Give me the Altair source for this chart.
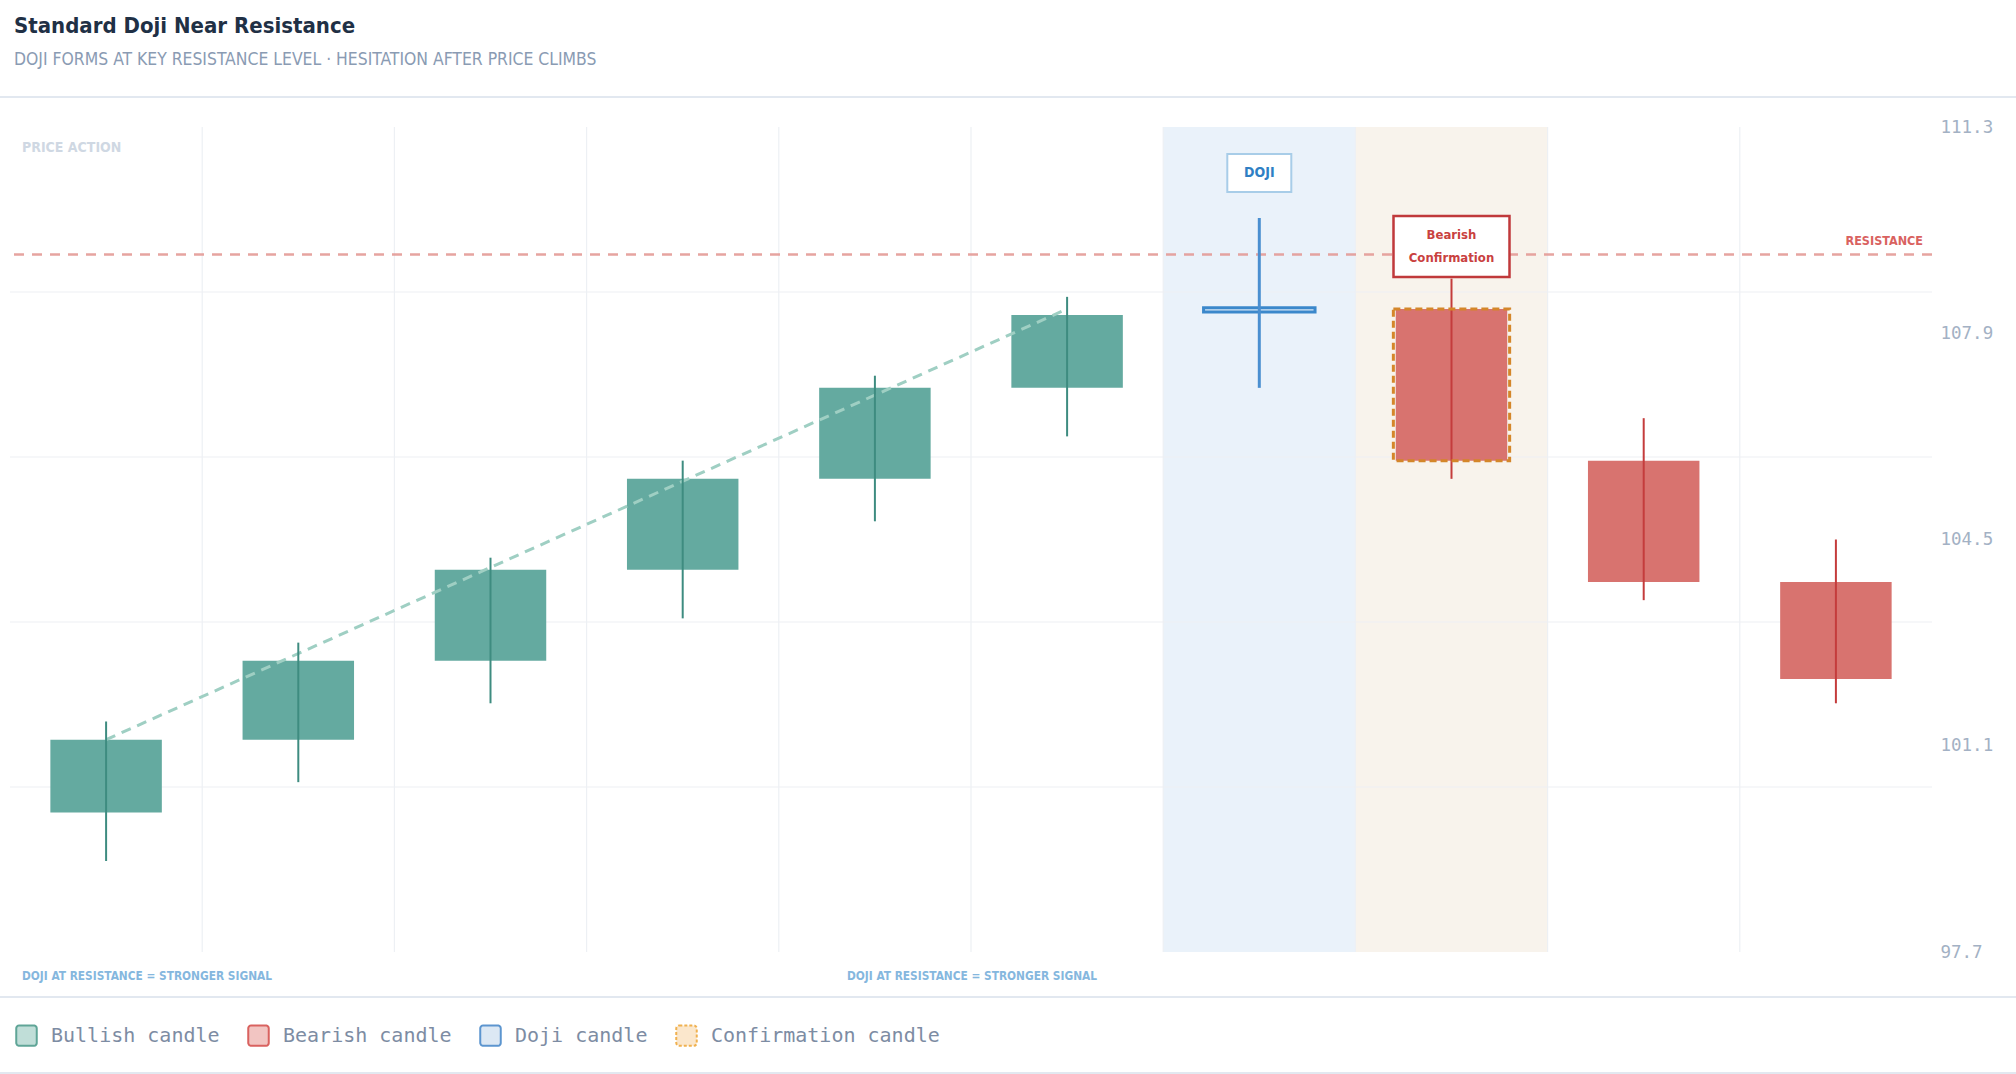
import altair as alt
import pandas as pd

# ---------------- data ----------------
cats = ["C1", "C2", "C3", "C4", "C5", "C6", "C7", "C8", "C9", "C10"]
opens = [100.0, 101.2, 102.5, 104.0, 105.5, 107.0, 108.25, 108.3, 105.8, 103.8]
closes = [101.2, 102.5, 104.0, 105.5, 107.0, 108.2, 108.32, 105.8, 103.8, 102.2]
highs = [101.5, 102.8, 104.2, 105.8, 107.2, 108.5, 109.8, 108.8, 106.5, 104.5]
lows = [99.2, 100.5, 101.8, 103.2, 104.8, 106.2, 107.0, 105.5, 103.5, 101.8]
kinds = ["bull"] * 6 + ["doji", "confirm", "bear", "bear"]

y_ticks = [97.7, 101.1, 104.5, 107.9, 111.3]
y_grid = [100.42, 103.14, 105.86, 108.58]
resistance = 109.2
trend_cats = ["C1", "C6"]
trend_vals = [101.2, 108.3]
band_cats = ["C7", "C8"]
band_kinds = ["doji", "confirm"]
ann_cats = ["C7", "C8"]
ann_vals = [110.54, 109.33]
ann_texts = ["DOJI", "Bearish\nConfirmation"]
legend_labels = ["Bullish candle", "Bearish candle", "Doji candle", "Confirmation candle"]
footer_texts = ["DOJI AT RESISTANCE = STRONGER SIGNAL", "DOJI AT RESISTANCE = STRONGER SIGNAL"]

COND = "Liberation Sans Narrow, DejaVu Sans Condensed, Roboto Condensed, Roboto, sans-serif"
MONO = "DejaVu Sans Mono, Liberation Mono, monospace"

W, H = 1922, 825

candles = pd.DataFrame({"cat": cats, "open": opens, "close": closes,
                        "high": highs, "low": lows, "kind": kinds})
trend = pd.DataFrame({"cat": trend_cats, "v": trend_vals})
bands = pd.DataFrame({"cat": band_cats, "kind": band_kinds})
ann = pd.DataFrame({"cat": ann_cats, "v": ann_vals, "t": ann_texts})
grid_v = pd.DataFrame({"cat": cats[1:]})
grid_h = pd.DataFrame({"v": y_grid})
res_df = pd.DataFrame({"v": [resistance], "t": ["RESISTANCE"]})
leg_df = pd.DataFrame({"kind": legend_labels})

xscale = alt.Scale(domain=cats, paddingInner=0, paddingOuter=0)
yscale = alt.Scale(domain=[97.7, 111.3], nice=False, zero=False)
yaxis = alt.Axis(orient="right", values=y_ticks, format=".1f", grid=False,
                 ticks=False, tickSize=0, domain=False, labelPadding=8,
                 labelFont=MONO, labelFontSize=17.5, labelColor="#a3b1c4",
                 labelFlush=False, title=None)


def X(**kw):
    return alt.X("cat:O", scale=xscale, axis=None, **kw)


def Y(field):
    return alt.Y(f"{field}:Q", scale=yscale, axis=yaxis)


# highlight bands
band_layer = alt.Chart(bands).mark_rect().encode(
    x=X(),
    color=alt.Color("kind:N", scale=alt.Scale(domain=["doji", "confirm"],
                                              range=["#eaf2fa", "#f8f3ec"]), legend=None),
)

# gridlines
vgrid = alt.Chart(grid_v).mark_rule(color="#edf0f4", strokeWidth=1.2).encode(
    x=alt.X("cat:O", scale=xscale, axis=None, bandPosition=0)
)
hgrid = alt.Chart(grid_h).mark_rule(color="#edf0f4", strokeWidth=1.2).encode(y=Y("v"))

# resistance line + label
res_line = alt.Chart(res_df).mark_rule(color="#e39a96", strokeWidth=2.5,
                                       strokeDash=[10, 8], opacity=0.9).encode(y=Y("v"))
res_text = alt.Chart(res_df).mark_text(align="right", baseline="bottom", dy=-6,
                                       font=COND, fontSize=12.5, fontWeight="bold",
                                       color="#d9625f").encode(
    x=alt.value(W - 9), y=Y("v"), text="t:N")

# trend line
trend_line = alt.Chart(trend).mark_line(color="#9fcfc3", strokeWidth=3,
                                        strokeDash=[10, 7]).encode(x=X(), y=Y("v"))

body_w = alt.RelativeBandSize(0.58)


def bodies(kind, width=body_w, **style):
    return alt.Chart(candles).transform_filter(
        alt.datum.kind == kind).mark_bar(width=width, **style).encode(
        x=X(), y=Y("open"), y2="close")


def wicks(kind, color, sw=2):
    return alt.Chart(candles).transform_filter(
        alt.datum.kind == kind).mark_rule(color=color, strokeWidth=sw).encode(
        x=X(), y=Y("low"), y2="high")


b_bull = bodies("bull", color="#64aaa0")
b_bear = bodies("bear", color="#d8736f")
b_conf = bodies("confirm", color="#d8736f")
b_conf_outline = bodies("confirm", width=alt.RelativeBandSize(0.605), fill=None,
                        fillOpacity=0, stroke="#d4862a", strokeWidth=3,
                        strokeDash=[7, 4])
b_doji = bodies("doji", fill="#d6e6f5", stroke="#3b88cb", strokeWidth=3)

w_bull = wicks("bull", "#3e8c80")
w_bear = wicks("bear", "#c43c3c")
w_conf = wicks("confirm", "#c43c3c")
w_doji = wicks("doji", "#4a8fd0", 3)

# annotation boxes
box_doji = alt.Chart(ann).transform_filter(alt.datum.t == "DOJI").mark_point(
    shape="M-1,-0.594L1,-0.594L1,0.594L-1,0.594Z", size=4096, filled=False,
    fill="white", stroke="#a8cde8", strokeWidth=2, opacity=1).encode(x=X(), y=Y("v"))
box_conf = alt.Chart(ann).transform_filter(alt.datum.t != "DOJI").mark_point(
    shape="M-1,-0.526L1,-0.526L1,0.526L-1,0.526Z", size=13456, filled=False,
    fill="white", stroke="#c0393b", strokeWidth=2.5, opacity=1).encode(x=X(), y=Y("v"))
txt_doji = alt.Chart(ann).transform_filter(alt.datum.t == "DOJI").mark_text(
    font=COND, fontSize=14, fontWeight="bold", color="#2f7fc4", baseline="middle").encode(
    x=X(), y=Y("v"), text="t:N")
txt_conf = alt.Chart(ann).transform_filter(alt.datum.t != "DOJI").mark_text(
    font=COND, fontSize=13, fontWeight="bold", color="#c9413f", baseline="middle",
    lineBreak="\n", lineHeight=23, dy=-11.5).encode(x=X(), y=Y("v"), text="t:N")

# static labels
price_action = alt.Chart(pd.DataFrame({"t": ["PRICE ACTION"]})).mark_text(
    align="left", baseline="middle", font=COND, fontSize=14, fontWeight="bold",
    color="#cfd8e3").encode(x=alt.value(12), y=alt.value(21), text="t:N")
foot1 = alt.Chart(pd.DataFrame({"t": footer_texts[:1]})).mark_text(
    align="left", baseline="middle", font=COND, fontSize=11.8, fontWeight="bold",
    color="#85b7de").encode(x=alt.value(12), y=alt.value(849), text="t:N")
foot2 = alt.Chart(pd.DataFrame({"t": footer_texts[1:]})).mark_text(
    align="left", baseline="middle", font=COND, fontSize=11.8, fontWeight="bold",
    color="#85b7de").encode(x=alt.value(837), y=alt.value(849), text="t:N")

# separator lines
sep_df = pd.DataFrame({"k": ["a"]})


def sep(yv):
    return alt.Chart(sep_df).mark_rule(color="#e2e8f0", strokeWidth=2).encode(
        x=alt.value(-10), x2=alt.value(2006), y=alt.value(yv))


ROUND_SQ = ("M-0.7,-1L0.7,-1A0.3,0.3 0 0 1 1,-0.7L1,0.7A0.3,0.3 0 0 1 0.7,1"
            "L-0.7,1A0.3,0.3 0 0 1 -1,0.7L-1,-0.7A0.3,0.3 0 0 1 -0.7,-1Z")

# legend (dummy layer, no marks drawn)
legend_layer = alt.Chart(leg_df).transform_filter("false").mark_square(
    opacity=1, filled=True).encode(
    fill=alt.Fill("kind:N", scale=alt.Scale(domain=legend_labels,
                                            range=["#c0ded8", "#f2c5c2", "#dce8f4", "#fbe7cc"]),
                  legend=alt.Legend(title=None, orient="none", legendX=5, legendY=897,
                                    direction="horizontal", columns=4,
                                    symbolType=ROUND_SQ, symbolSize=420,
                                    symbolStrokeWidth=2, labelFont=MONO,
                                    labelFontSize=20, labelColor="#7d8ca3",
                                    labelLimit=500,
                                    labelOffset=13, columnPadding=24, padding=0,
                                    symbolOpacity=1)),
    stroke=alt.Stroke("kind:N", scale=alt.Scale(domain=legend_labels,
                                                range=["#5fa597", "#d9625f", "#5c95cf", "#f0b14f"]),
                      legend=alt.Legend(title=None)),
    strokeDash=alt.StrokeDash("kind:N", scale=alt.Scale(domain=legend_labels,
                                                        range=[[1, 0], [1, 0], [1, 0], [3, 2]]),
                              legend=alt.Legend(title=None)),
)

chart = alt.layer(
    band_layer, vgrid, hgrid, res_line,
    b_bull, b_bear, b_conf, b_doji,
    trend_line,
    w_bull, w_bear, w_conf, w_doji,
    b_conf_outline,
    box_doji, box_conf, txt_doji, txt_conf,
    res_text, price_action, foot1, foot2,
    sep(-30), sep(870), sep(946),
    legend_layer,
).resolve_scale(color="independent").properties(
    width=W, height=H,
    padding={"left": 10, "top": 127, "right": 84, "bottom": 122},
    autosize=alt.AutoSizeParams(type="none"),
    title=alt.TitleParams(
        text="Standard Doji Near Resistance",
        subtitle="DOJI FORMS AT KEY RESISTANCE LEVEL · HESITATION AFTER PRICE CLIMBS",
        anchor="start", frame="group", dx=4, offset=27,
        font=COND, fontSize=22, fontWeight="bold", color="#1f3045",
        subtitleFont=COND, subtitleFontSize=17.4, subtitleColor="#8a9bb3",
        subtitleFontWeight="normal", subtitlePadding=13,
    ),
).configure(background="white").configure_view(fill="#f8fafc", stroke=None)

chart.save("out.html", embed_options={"renderer": "svg", "actions": False})
